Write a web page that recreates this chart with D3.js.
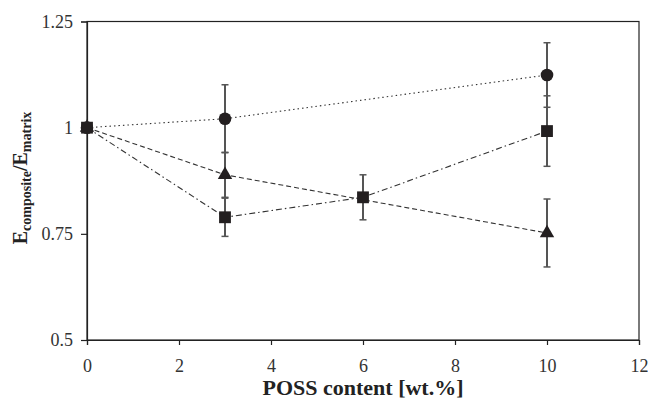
<!DOCTYPE html>
<html>
<head>
<meta charset="utf-8">
<script src="https://cdn.jsdelivr.net/npm/d3@7"></script>
<style>
  body { margin: 0; background: #fff; }
</style>
</head>
<body>
<div id="chart"></div>
<script>
// values
const xTicks = [0, 2, 4, 6, 8, 10, 12];
const yTicks = [0.5, 0.75, 1, 1.25];

const circleX = [0, 3, 10];
const circleY = [1, 1.021, 1.124];
const circleErr = [0, 0.08, 0.076];

const triangleX = [0, 3, 10];
const triangleY = [1, 0.889, 0.752];
const triangleErr = [0, 0.053, 0.08];

const squareX = [0, 3, 6, 10];
const squareY = [1, 0.789, 0.836, 0.992];
const squareErr = [0, 0.045, 0.053, 0.083];

(function () {
  const W = 648, H = 401;
  const left = 87, right = 639, top = 21.5, bottom = 340;

  const svg = d3.select("#chart").append("svg")
    .attr("width", W)
    .attr("height", H);

  const x = d3.scaleLinear().domain([0, 12]).range([left, right]);
  const y = d3.scaleLinear().domain([0.5, 1.25]).range([bottom, top]);

  const serif = "'Liberation Serif', 'Times New Roman', serif";

  // frame
  svg.append("rect")
    .attr("x", left).attr("y", top)
    .attr("width", right - left).attr("height", bottom - top)
    .attr("fill", "none")
    .attr("stroke", "#222")
    .attr("stroke-width", 1.2);

  // axes
  svg.append("g")
    .attr("transform", `translate(0,${bottom})`)
    .call(d3.axisBottom(x).tickValues(xTicks).tickSize(5).tickPadding(14).tickFormat(d3.format("d")))
    .call(g => g.select(".domain").attr("stroke", "#222").attr("stroke-width", 1.2))
    .call(g => g.selectAll(".tick line").attr("stroke", "#222").attr("stroke-width", 1.2))
    .selectAll("text")
    .attr("fill", "#333")
    .style("font-family", serif)
    .style("font-size", "18px");

  svg.append("g")
    .attr("transform", `translate(${left},0)`)
    .call(d3.axisLeft(y).tickValues(yTicks).tickSize(6).tickPadding(8).tickFormat(d => String(d)))
    .call(g => g.select(".domain").attr("stroke", "#222").attr("stroke-width", 1.2))
    .call(g => g.selectAll(".tick line").attr("stroke", "#222").attr("stroke-width", 1.2))
    .selectAll("text")
    .attr("fill", "#333")
    .style("font-family", serif)
    .style("font-size", "18px");

  // axis titles
  svg.append("text")
    .attr("x", 363)
    .attr("y", 395)
    .attr("text-anchor", "middle")
    .attr("fill", "#222")
    .style("font-family", serif)
    .style("font-size", "22px")
    .style("font-weight", "700")
    .text("POSS content [wt.%]");

  const yt = svg.append("text")
    .attr("transform", "translate(27,178) rotate(-90)")
    .attr("text-anchor", "middle")
    .attr("fill", "#222")
    .style("font-family", serif)
    .style("font-size", "20px")
    .style("font-weight", "700");
  yt.append("tspan").text("E");
  yt.append("tspan").attr("dy", 4).style("font-size", "14px").text("composite");
  yt.append("tspan").attr("dy", -4).text("/E");
  yt.append("tspan").attr("dy", 4).style("font-size", "14px").text("matrix");

  const series = [
    { xs: circleX, ys: circleY, err: circleErr, symbol: d3.symbolCircle, size: 125, dash: "1.5,3" },
    { xs: triangleX, ys: triangleY, err: triangleErr, symbol: d3.symbolTriangle, size: 90, dash: "5,3" },
    { xs: squareX, ys: squareY, err: squareErr, symbol: d3.symbolSquare, size: 140, dash: "6,3,1.5,3" }
  ].map(s => ({ ...s, pts: s.xs.map((v, i) => ({ x: v, y: s.ys[i], e: s.err[i] })) }));

  // connecting lines
  const line = d3.line().x(d => x(d.x)).y(d => y(d.y));
  series.forEach(s => {
    svg.append("path")
      .datum(s.pts)
      .attr("fill", "none")
      .attr("stroke", "#333")
      .attr("stroke-width", 1.1)
      .attr("stroke-dasharray", s.dash)
      .attr("d", line);
  });

  // error bars
  series.forEach(s => {
    const eb = svg.append("g").attr("stroke", "#555").attr("stroke-width", 2);
    s.pts.filter(d => d.e > 0).forEach(d => {
      eb.append("line")
        .attr("x1", x(d.x)).attr("x2", x(d.x))
        .attr("y1", y(d.y + d.e)).attr("y2", y(d.y - d.e));
      [d.y + d.e, d.y - d.e].forEach(v => {
        eb.append("line")
          .attr("x1", x(d.x) - 3.5).attr("x2", x(d.x) + 3.5)
          .attr("y1", y(v)).attr("y2", y(v))
          .attr("stroke-width", 1.5);
      });
    });
  });

  // markers
  series.forEach(s => {
    svg.append("g")
      .selectAll("path")
      .data(s.pts)
      .join("path")
      .attr("transform", d => `translate(${x(d.x)},${y(d.y)})`)
      .attr("d", d3.symbol().type(s.symbol).size(s.size))
      .attr("fill", "#231f20");
  });
})();
</script>
</body>
</html>
